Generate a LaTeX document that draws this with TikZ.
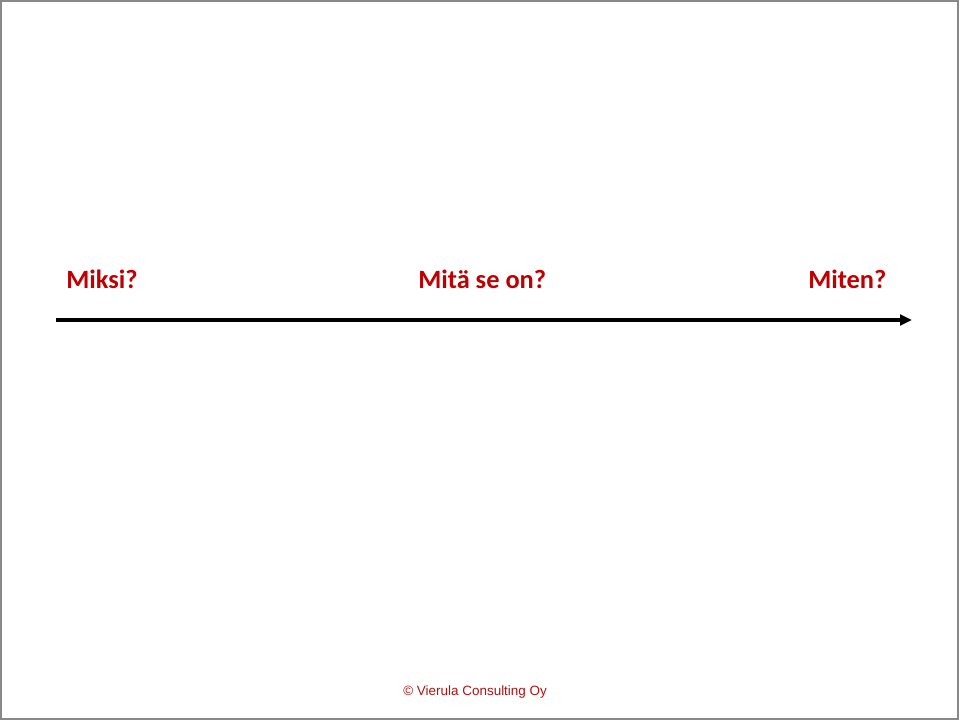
\documentclass[tikz,border=0pt]{standalone}
\usepackage{fontspec}
\setmainfont{Carlito}
\newfontfamily\footfont{Liberation Sans}
\usetikzlibrary{arrows.meta}
\definecolor{headred}{RGB}{192,0,0}
\definecolor{footred}{RGB}{170,20,20}
\definecolor{framegrey}{RGB}{136,136,136}

\begin{document}
\begin{tikzpicture}[x=0.75pt, y=-0.75pt,
		head_style/.style={anchor=base west,inner sep=0pt,text=headred,font=\bfseries\fontsize{19.8}{24}\selectfont},
		foot_style/.style={anchor=base west,inner sep=0pt,text=footred,font=\footfont\fontsize{10.1}{12}\selectfont},
		axis_style/.style={draw=black,line width=2.4pt,-{Triangle[length=9pt,width=8pt]}}]
		
		\useasboundingbox (0,0) rectangle (960,721);
		\draw[framegrey,line width=1.5pt] (1,1) rectangle (957.5,718.5);
		
		\node[head_style] (why) at (66,288)  {Miksi?};
		\node[head_style] (what) at (418,288)  {Mitä se on?};
		\node[head_style] (how) at (808,288)  {Miten?};
		
		\coordinate (start) at (56,320);
		\coordinate (end) at (912,320);
		\draw[axis_style] (start) -- (end);
		
		\node[foot_style] (copy) at (403,695)  {© Vierula Consulting Oy};
		
		\end{tikzpicture}
\end{document}
